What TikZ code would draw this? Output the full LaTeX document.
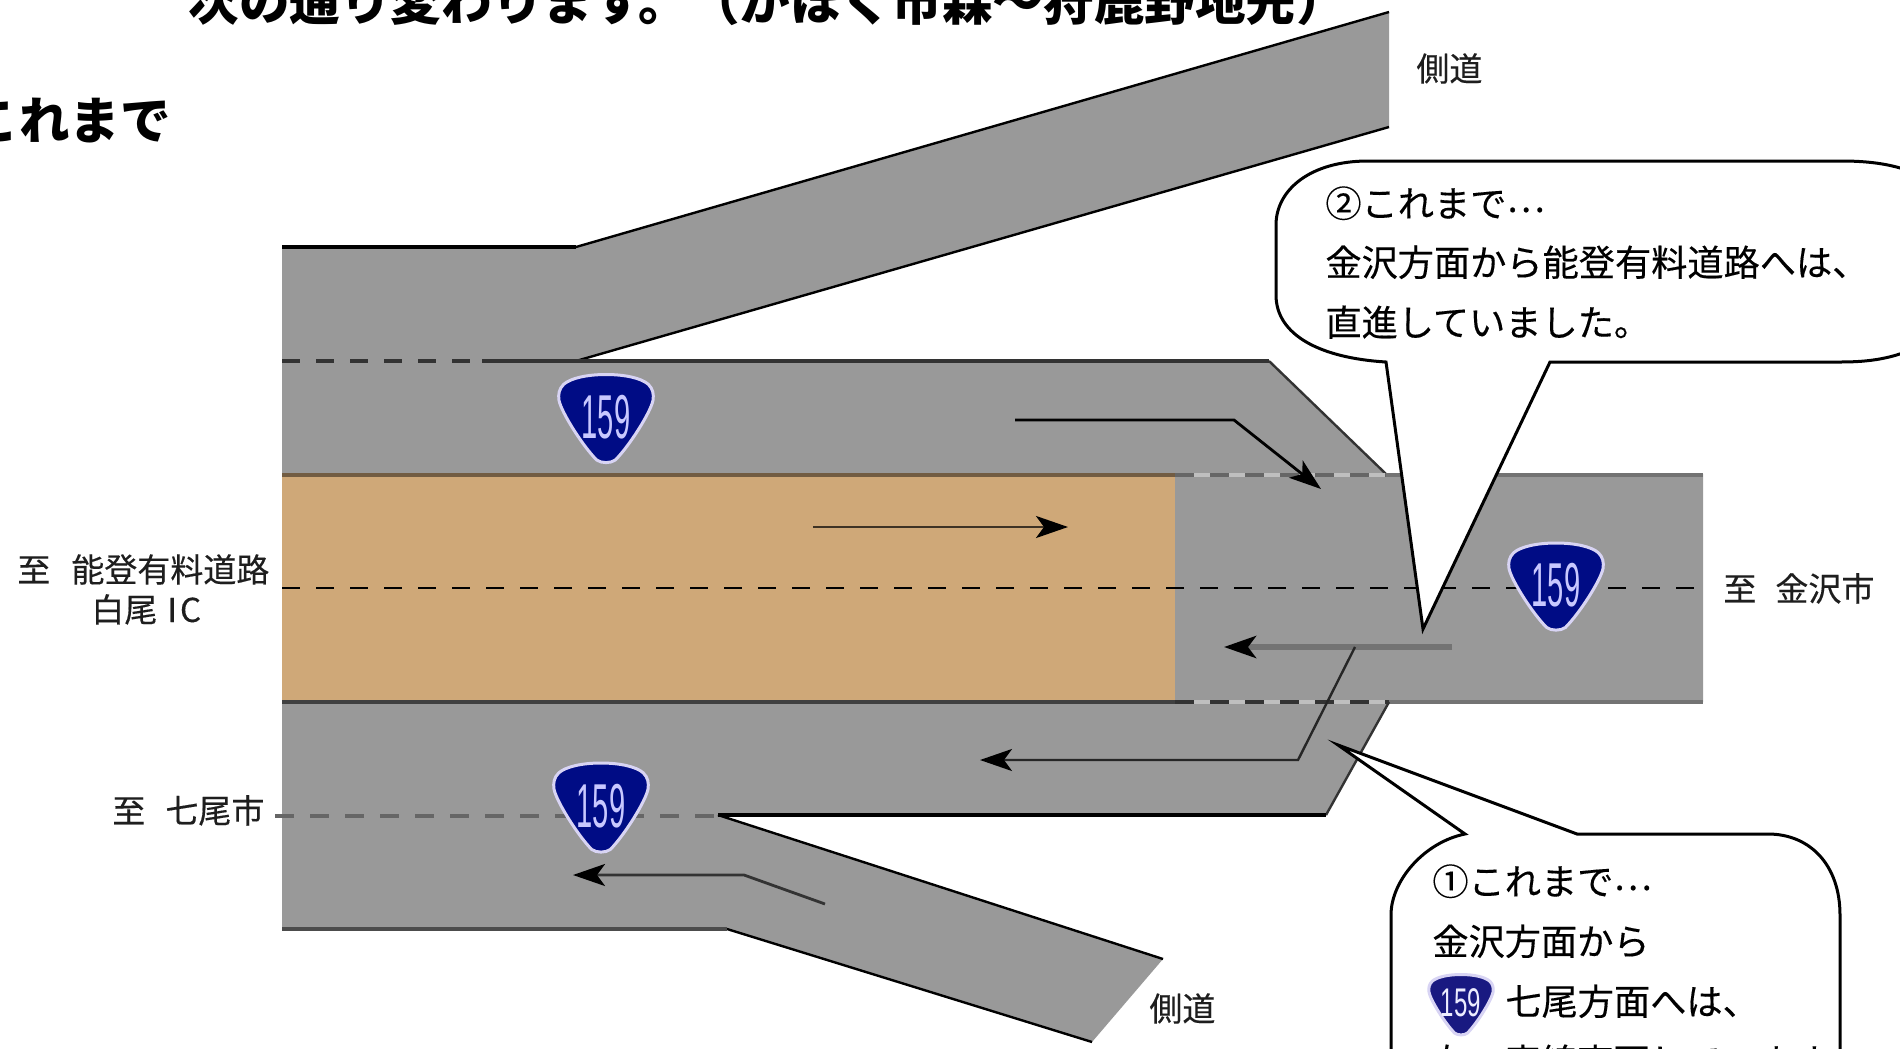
\documentclass[tikz,border=0pt]{standalone}
\usepackage{fontspec}
\usepackage{graphicx}
\usetikzlibrary{arrows.meta}
\newfontfamily\cjk{Noto Sans CJK JP}
\newfontfamily\cjkm[FakeBold=0.3]{Noto Sans CJK JP}
\newfontfamily\signfont{Liberation Sans}
\definecolor{roadgray}{HTML}{999999}
\definecolor{paved}{HTML}{CFA878}
\definecolor{signblue}{HTML}{000C85}
\definecolor{signedge}{HTML}{D8D4F4}
\definecolor{signdigit}{HTML}{C8C8FF}
\definecolor{labelink}{HTML}{1E1E1E}
\tikzset{
  edge line/.style={draw=black,line width=1.2pt},
  kerb/.style={line width=1.6pt},
  lane dash/.style={line width=1pt,draw=black,dash pattern=on 9pt off 8pt},
  seam/.style={line width=1.6pt,dash pattern=on 9.5pt off 8pt},
  flow/.style={line width=1.4pt,draw=#1,-{Stealth[length=16pt,width=11pt,inset=4pt,color=black]}},
  flow/.default=black,
  road label/.style={font=\cjkm\fontsize{16.5pt}{18pt}\selectfont,text=labelink,anchor=base west,inner sep=0pt},
  head text/.style={font=\cjk\bfseries\fontsize{25.3pt}{28pt}\selectfont,text=black,anchor=base west,inner sep=0pt},
  bubble/.style={draw=black,fill=white,line width=1.5pt,line join=miter},
  bubble text/.style={font=\cjkm\fontsize{18.1pt}{20pt}\selectfont,text=black,anchor=base west,inner sep=0pt},
}
% \roadsign{name}{cx}{cy}{width}{height}{font size pt}{x squeeze}
\newcommand{\roadsign}[7]{%
  \begin{scope}[shift={(#2,#3)},xscale=#4/2,yscale=#5/2]
    \fill[draw=signedge,fill=signblue,line width=1.5pt]
      (0,-1) .. controls (0.4,-1) and (0.75,-0.92) .. (0.9,-0.78)
      .. controls (1.0,-0.68) and (1.02,-0.55) .. (1,-0.42)
      .. controls (0.95,-0.15) and (0.5,0.6) .. (0.2,0.92)
      .. controls (0.1,1.0) and (-0.1,1.0) .. (-0.2,0.92)
      .. controls (-0.5,0.6) and (-0.95,-0.15) .. (-1,-0.42)
      .. controls (-1.02,-0.55) and (-1.0,-0.68) .. (-0.9,-0.78)
      .. controls (-0.75,-0.92) and (-0.4,-1) .. (0,-1) -- cycle;
  \end{scope}
  \node[text=signdigit,inner sep=0pt] (#1) at (#2,#3-2)
    {\scalebox{#7}[1]{\signfont\fontsize{#6pt}{#6pt}\selectfont 159}};%
}
\begin{document}
\begin{tikzpicture}[x=0.5pt,y=-0.5pt]
\useasboundingbox (0,0) rectangle (1900,1049);
\clip (0,0) rectangle (1900,1049);
\fill[white] (0,0) rectangle (1900,1049);

% roads
\fill[roadgray] (282,247) -- (576,247) -- (1389,12) -- (1389,127) -- (576,361)
  -- (1269,361) -- (1386,474) -- (1703,474) -- (1703,702) -- (1389,702)
  -- (1326,815) -- (718,815) -- (1163,959) -- (1092,1042) -- (727,929)
  -- (282,929) -- cycle;
\fill[paved] (282,477) rectangle (1175,700);

% road edges
\draw[kerb,black] (282,247) -- (576,247);
\draw[edge line] (576,247) -- (1389,12);
\draw[edge line] (576,361) -- (1389,127);
\draw[kerb,draw=black!80] (482,361) -- (1269,361);
\draw[lane dash,draw=black!80,line width=1.6pt] (282,361) -- (482,361);
\draw[edge line,draw=black!80] (1269,361) -- (1386,474);
\draw[kerb,draw=paved!55!black] (282,475) -- (1175,475);
\draw[kerb,draw=black!55] (1386,475) -- (1703,475);
\draw[kerb,draw=black!75] (282,702) -- (1175,702);
\draw[kerb,draw=black!55] (1389,702) -- (1703,702);
\draw[edge line,draw=black!80] (1389,702) -- (1326,815);
\draw[kerb,black] (718,815) -- (1326,815);
\draw[edge line] (718,815) -- (1163,959);
\draw[edge line] (727,929) -- (1092,1042);
\draw[kerb,draw=black!70] (282,929) -- (727,929);

% lane markings
\draw[kerb,draw=white!75!black] (1175,475) -- (1386,475);
\draw[seam,draw=black!60] (1175,475) -- (1386,475);
\draw[kerb,draw=white!75!black] (1175,702) -- (1389,702);
\draw[seam,draw=black!80] (1175,702) -- (1389,702);
\draw[seam,draw=black!60] (275,816) -- (718,816);
\draw[lane dash] (282,588) -- (1703,588);

% flow arrows
\draw[flow] (1015,420) -- (1234,420) -- (1321,489);
\draw[flow={black!70!paved}] (813,527) -- (1068,527);
\draw[flow={black!55},line width=2.6pt] (1452,647) -- (1224,647);
\draw[flow,line width=1.2pt,draw=black!85] (1355,647) -- (1298,760) -- (980,760);
\draw[flow,draw=black!80] (825,904) -- (744,875) -- (573,875);

% signs
\roadsign{signa}{606}{419}{94}{89}{31}{0.47}
\roadsign{signb}{601}{808}{94}{90}{31}{0.47}
\roadsign{signc}{1556}{587}{94}{88}{31}{0.47}

% bubbles
\draw[bubble] (1386,362) -- (1423,629) -- (1550,362) -- (1841,362)
  .. controls (1880,362) and (1905,355) .. (1930,340) -- (1930,180)
  .. controls (1905,167) and (1880,161) .. (1841,161) -- (1368,161)
  .. controls (1310,161) and (1276,190) .. (1276,225) -- (1276,295)
  .. controls (1276,335) and (1320,358) .. (1386,362) -- cycle;
\draw[bubble] (1465,834) -- (1338,745) -- (1577,834) -- (1768,834)
  .. controls (1810,834) and (1840,865) .. (1840,915) -- (1840,1070)
  -- (1391,1070) -- (1391,915)
  .. controls (1391,880) and (1425,842) .. (1465,834) -- cycle;
\begin{scope}
\colorlet{signblue}{blue!45!black!90!white}
\definecolor{signdigit}{HTML}{ECECFF}
\roadsign{signd}{1461}{1005}{64}{61}{20}{0.6}
\end{scope}

% texts
\node[head text] (heading) at (188,20) {次の通り変わります。（かほく市森～狩鹿野地先）};
\node[head text] (before) at (-32,139) {これまで};
\node[road label] (siderdtop) at (1416,81) {側道};
\node[road label] (siderdbot) at (1149,1021) {側道};
\node[road label] (tonoto) at (17,582) {至\hspace{10.5pt}能登有料道路};
\node[road label] (shiroo) at (91,622) {白尾\hspace{5pt}I\hspace{1.5pt}C};
\node[road label] (tonanao) at (112,823) {至\hspace{10pt}七尾市};
\node[road label] (tokanazawa) at (1723,601) {至\hspace{9.5pt}金沢市};
\node[bubble text] (b2a) at (1325,217) {②これまで\raisebox{2.5pt}{⋯}};
\node[bubble text] (b2b) at (1325,276) {金沢方面から能登有料道路へは、};
\node[bubble text] (b2c) at (1325,336) {直進していました。};
\node[bubble text] (b1a) at (1432,895) {①これまで\raisebox{2.5pt}{⋯}};
\node[bubble text] (b1b) at (1432,955) {金沢方面から};
\node[bubble text] (b1c) at (1505,1015) {七尾方面へは、};
\node[bubble text] (b1d) at (1432,1075) {左へ車線変更しています};
\end{tikzpicture}
\end{document}
